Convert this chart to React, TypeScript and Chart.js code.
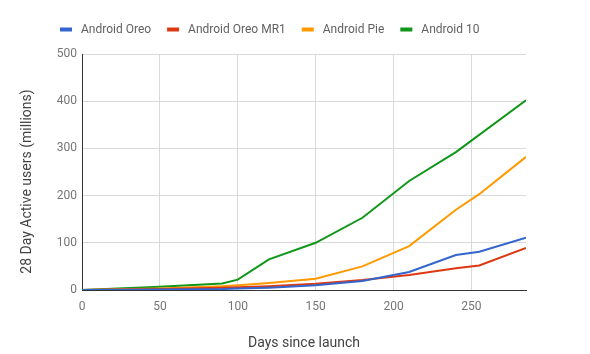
import React, { useEffect, useRef } from "react";
import { Chart, registerables } from "chart.js";

Chart.register(...registerables);

const seriesNames = ["Android Oreo", "Android Oreo MR1", "Android Pie", "Android 10"];
const seriesColors = ["#3366cc", "#dc3912", "#ff9900", "#109618"];

const oreoDays = [0, 50, 90, 100, 120, 150, 180, 210, 240, 255, 285];
const oreoUsers = [0, 1, 2, 3, 5, 10, 19, 38, 74, 81, 111];

const oreoMr1Days = [0, 50, 90, 100, 120, 150, 180, 210, 240, 255, 285];
const oreoMr1Users = [0, 2, 5, 6, 8, 13, 21, 32, 46, 52, 89];

const pieDays = [0, 50, 90, 100, 120, 150, 180, 210, 240, 255, 285];
const pieUsers = [0, 3, 8, 10, 15, 24, 50, 93, 170, 203, 282];

const android10Days = [0, 50, 90, 100, 120, 150, 180, 210, 240, 285];
const android10Users = [0, 7, 14, 22, 65, 100, 153, 231, 292, 402];

const xTickValues = [0, 50, 100, 150, 200, 250];
const yTickValues = [0, 100, 200, 300, 400, 500];

const xTitle = "Days since launch";
const yTitle = "28 Day Active users (millions)";

const allDays = [oreoDays, oreoMr1Days, pieDays, android10Days];
const allUsers = [oreoUsers, oreoMr1Users, pieUsers, android10Users];

const FONT = "Roboto, 'Noto Sans', Arial, sans-serif";

const customLegendAndTitle = {
  id: "customLegendAndTitle",
  afterDraw(chart: any) {
    const ctx = chart.ctx as CanvasRenderingContext2D;
    ctx.save();
    // legend
    ctx.font = `12px ${FONT}`;
    ctx.textBaseline = "middle";
    ctx.textAlign = "left";
    let x = 60;
    const y = 29.5;
    chart.data.datasets.forEach((ds: any) => {
      ctx.fillStyle = ds.borderColor;
      ctx.fillRect(x, y - 2, 12, 4);
      ctx.fillStyle = "#616161";
      ctx.fillText(ds.label, x + 21, y);
      x += 21 + ctx.measureText(ds.label).width + 16;
    });
    // y axis title
    ctx.translate(27, 181.5);
    ctx.rotate(-Math.PI / 2);
    ctx.font = `14px ${FONT}`;
    ctx.textAlign = "center";
    ctx.fillStyle = "#424242";
    ctx.fillText(yTitle, 0, 0);
    ctx.restore();
  },
};

export default function App() {
  const canvasRef = useRef<HTMLCanvasElement | null>(null);

  useEffect(() => {
    if (!canvasRef.current) return;
    const datasets = seriesNames.map((name, i) => ({
      label: name,
      data: allDays[i].map((d, j) => ({ x: d, y: allUsers[i][j] })),
      borderColor: seriesColors[i],
      backgroundColor: seriesColors[i],
      borderWidth: 2,
      pointRadius: 0,
      tension: 0,
      fill: false,
    }));
    const chart = new Chart(canvasRef.current, {
      type: "line",
      data: { datasets },
      options: {
        animation: false,
        responsive: false,
        layout: { padding: { left: 0, right: 64, top: 54, bottom: 0 } },
        plugins: {
          legend: { display: false },
          tooltip: { enabled: false },
        },
        scales: {
          x: {
            type: "linear",
            min: 0,
            max: 285,
            afterBuildTicks: (scale: any) => {
              scale.ticks = xTickValues.map((v) => ({ value: v }));
            },
            afterFit: (scale: any) => {
              scale.height = 64;
            },
            ticks: {
              stepSize: 50,
              includeBounds: false,
              padding: 10,
              color: "#757575",
              font: { family: FONT, size: 12 },
            },
            grid: { color: "#d9d9d9", drawTicks: false },
            border: { color: "#333333", width: 1 },
            title: {
              display: true,
              text: xTitle,
              color: "#424242",
              font: { family: FONT, size: 14 },
              padding: { top: 0, bottom: 2 },
            },
          },
          y: {
            type: "linear",
            min: 0,
            max: 500,
            afterBuildTicks: (scale: any) => {
              scale.ticks = yTickValues.map((v) => ({ value: v }));
            },
            afterFit: (scale: any) => {
              scale.width = 82;
            },
            ticks: {
              stepSize: 100,
              padding: 5,
              color: "#757575",
              font: { family: FONT, size: 12 },
            },
            grid: { color: "#d9d9d9", drawTicks: false },
            border: { color: "#333333", width: 1 },
          },
        },
      },
      plugins: [customLegendAndTitle],
    } as any);
    return () => chart.destroy();
  }, []);

  return (
    <div style={{ position: "fixed", left: 0, top: 0, width: 590, height: 354, background: "#ffffff" }}>
      <canvas ref={canvasRef} width={590} height={354} style={{ display: "block" }} />
    </div>
  );
}
